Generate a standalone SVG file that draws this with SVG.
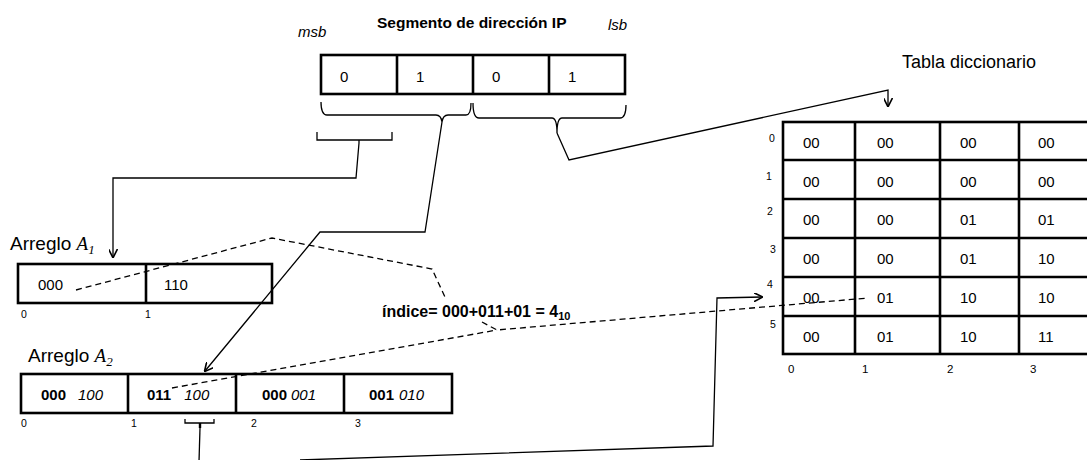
<svg xmlns="http://www.w3.org/2000/svg" width="1087" height="460" viewBox="0 0 1087 460">
<defs>
<style>
text{font-family:"Liberation Sans",Arial,sans-serif;fill:#000}
.box{fill:#fff;stroke:#000;stroke-width:2.6}
.div{stroke:#000;stroke-width:2.6}
.cell{font-size:15px}
.idx{font-size:10.5px}
.b{font-weight:bold}
.i{font-style:italic}
.con{fill:none;stroke:#000;stroke-width:1.3}
.dash{fill:none;stroke:#000;stroke-width:1.3;stroke-dasharray:6,4}
.math{font-family:"Liberation Serif","Times New Roman",serif;font-style:italic}
</style>
<marker id="ah" viewBox="0 0 10 10" refX="9" refY="5" markerWidth="9" markerHeight="9" orient="auto" markerUnits="userSpaceOnUse">
<path d="M0,0 L10,5 L0,10" fill="none" stroke="#000" stroke-width="1.8"/>
</marker>
</defs>
<rect width="1087" height="460" fill="#fff"/>

<g id="ip-segment">
<text x="298" y="37" font-size="15" class="i">msb</text>
<text x="377" y="28" font-size="15.5" class="b">Segmento de dirección IP</text>
<text x="608" y="30" font-size="15" class="i">lsb</text>
<rect class="box" x="321" y="55" width="304" height="39"/>
<line class="div" x1="397" y1="55" x2="397" y2="94"/>
<line class="div" x1="473" y1="55" x2="473" y2="94"/>
<line class="div" x1="549" y1="55" x2="549" y2="94"/>
<text class="cell" x="340" y="82">0</text>
<text class="cell" x="416" y="82">1</text>
<text class="cell" x="492" y="82">0</text>
<text class="cell" x="568" y="82">1</text>
</g>

<g id="braces">
<path class="con" d="M321,102 Q321,115 327,115 L436,115 Q441,115 442,122 Q443,115 448,115 L466,115 Q471,115 471,103"/>
<path class="con" d="M473,103 Q473,118 479,118 L552,118 Q557,118 557,133 Q557,118 562,118 L620,118 Q626,118 626,105"/>
<path class="con" d="M317,132 L317,140 L392,140 L392,132 M359,140 L359,143"/>
<path class="con" d="M185,419 L185,423 L214,423 L214,419"/>
<path d="M200,423 L200,428" stroke="#000" stroke-width="2.4"/>
</g>

<g id="arreglo-a1">
<text x="10" y="250" font-size="19">Arreglo <tspan class="math">A</tspan><tspan class="math" font-style="normal" font-size="13" dy="4">1</tspan></text>
<rect class="box" x="18" y="264" width="254" height="39"/>
<line class="div" x1="146" y1="264" x2="146" y2="303"/>
<text class="cell" x="38" y="290">000</text>
<text class="cell" x="164" y="290">110</text>
<text class="idx" x="21" y="318">0</text>
<text class="idx" x="145" y="318">1</text>
</g>

<g id="arreglo-a2">
<text x="28" y="362" font-size="19">Arreglo <tspan class="math">A</tspan><tspan class="math" font-style="normal" font-size="13" dy="4">2</tspan></text>
<rect class="box" x="21" y="374" width="431" height="39"/>
<line class="div" x1="128" y1="374" x2="128" y2="413"/>
<line class="div" x1="236" y1="374" x2="236" y2="413"/>
<line class="div" x1="344" y1="374" x2="344" y2="413"/>
<text class="cell" x="41" y="400"><tspan class="b">000</tspan><tspan class="i" dx="12">100</tspan></text>
<text class="cell" x="147" y="400"><tspan class="b">011</tspan><tspan class="i" dx="13">100</tspan></text>
<text class="cell" x="262" y="400"><tspan class="b">000</tspan><tspan class="i" dx="4">001</tspan></text>
<text class="cell" x="369" y="400"><tspan class="b">001</tspan><tspan class="i" dx="5">010</tspan></text>
<text class="idx" x="21" y="427">0</text>
<text class="idx" x="131" y="427">1</text>
<text class="idx" x="251" y="427">2</text>
<text class="idx" x="355" y="427">3</text>
</g>

<g id="indice">
<text x="382" y="317" font-size="16" class="b">índice= 000+011+01 = 4<tspan font-size="11" dy="3">10</tspan></text>
</g>

<g id="tabla-diccionario">
<text x="902" y="68" font-size="18">Tabla diccionario</text>
<rect class="box" x="783" y="122" width="312" height="232"/>
<g class="div">
<line x1="783" y1="160" x2="1095" y2="160"/>
<line x1="783" y1="199" x2="1095" y2="199"/>
<line x1="783" y1="238" x2="1095" y2="238"/>
<line x1="783" y1="277" x2="1095" y2="277"/>
<line x1="783" y1="316" x2="1095" y2="316"/>
<line x1="855" y1="122" x2="855" y2="354"/>
<line x1="940" y1="122" x2="940" y2="354"/>
<line x1="1019" y1="122" x2="1019" y2="354"/>
</g>
<g class="cell">
<text x="803" y="148">00</text><text x="877" y="148">00</text><text x="960" y="148">00</text><text x="1038" y="148">00</text>
<text x="803" y="187">00</text><text x="877" y="187">00</text><text x="960" y="187">00</text><text x="1038" y="187">00</text>
<text x="803" y="225">00</text><text x="877" y="225">00</text><text x="960" y="225">01</text><text x="1038" y="225">01</text>
<text x="803" y="264">00</text><text x="877" y="264">00</text><text x="960" y="264">01</text><text x="1038" y="264">10</text>
<text x="803" y="303">00</text><text x="877" y="303">01</text><text x="960" y="303">10</text><text x="1038" y="303">10</text>
<text x="803" y="342">00</text><text x="877" y="342">01</text><text x="960" y="342">10</text><text x="1038" y="342">11</text>
</g>
<g class="idx">
<text x="769" y="142">0</text>
<text x="766" y="180">1</text>
<text x="767" y="215">2</text>
<text x="770" y="253">3</text>
<text x="767" y="288">4</text>
<text x="770" y="328">5</text>
</g>
<g font-size="11.5">
<text x="788" y="373">0</text>
<text x="862" y="373">1</text>
<text x="947" y="373">2</text>
<text x="1030" y="373">3</text>
</g>
</g>

<g id="connectors">
<path class="con" d="M359,143 L356,178 L113,178 L113,257" marker-end="url(#ah)"/>
<path class="con" d="M442,122 L425,232 L320,232 L205,371" marker-end="url(#ah)"/>
<path class="con" d="M557,133 L569,160 L888,90 L888,106" marker-end="url(#ah)"/>
<path class="con" d="M200,428 L199,462"/>
<path class="con" d="M300,460 L713,446 L717,298 L762,297" marker-end="url(#ah)"/>
<path class="dash" d="M76,290 L272,238 L432,269 L445,297"/>
<path class="dash" d="M172,388 L497,330"/>
<path class="dash" d="M482,322 L497,330 L868,298"/>
</g>
</svg>
